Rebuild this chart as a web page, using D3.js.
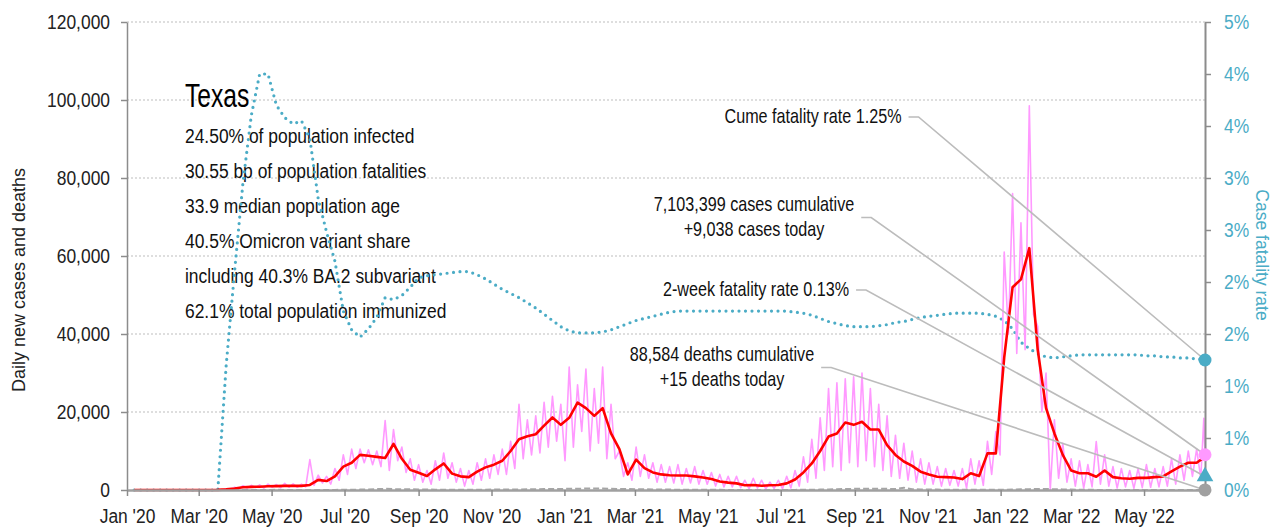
<!DOCTYPE html>
<html>
<head>
<meta charset="utf-8">
<script src="https://cdn.jsdelivr.net/npm/d3@7"></script>
<style>
  body { margin: 0; background: #fff; }
  svg text { font-family: "Liberation Sans", Arial, sans-serif; }
</style>
</head>
<body>
<svg id="chart" width="1281" height="529"></svg>
<script>
// ---------- DATA ----------
// weekly points, first one on 7 Jan 2020
const weekStart = '2020-01-07';

// 7-day average of daily new cases
const avgCases = [
  0, 0, 0, 0, 0, 0, 0, 0, 0, 5,
  30, 150, 400, 700, 800, 850, 950, 1000, 1050, 1100,
  1050, 1300, 2600, 2300, 3500, 6000, 7000, 9000, 8800, 8500,
  8200, 11800, 8000, 5200, 4400, 3600, 5300, 6800, 4200, 3500,
  3300, 4700, 5800, 6500, 7500, 10000, 13000, 13800, 14300, 16500,
  18600, 16700, 18500, 22400, 21000, 19000, 21000, 14500, 10500, 4000,
  7800, 5600, 4500, 4000, 3800, 3700, 3700, 3500, 3200, 2800,
  2200, 1900, 1700, 1200, 1300, 1100, 1200, 1300, 1700, 2700,
  4500, 6800, 10000, 13700, 14500, 17300, 16700, 17500, 15500, 15500,
  11500, 9000, 7300, 6200, 4700, 4000, 3400, 3300, 3200, 2800,
  4300, 3600, 9400, 9400, 34000, 52000, 54000, 62000, 36000, 21000,
  14500, 9000, 5000, 4300, 4300, 3400, 5000, 3300, 3000, 2900,
  3100, 3100, 3300, 3500, 4800, 6000, 7000, 7000, 8500
];

// raw daily cases, one high and one low reading per week
const casesHigh = [
  0, 0, 0, 0, 0, 0, 0, 0, 0, 10,
  60, 300, 700, 1100, 1200, 1300, 1500, 1400, 1700, 1600,
  1500, 7800, 3800, 3500, 5500, 9000, 10500, 10500, 10300, 10000,
  17800, 15500, 11000, 8000, 6500, 5000, 7500, 9500, 7000, 5500,
  5000, 7000, 8000, 9000, 10500, 12500, 22000, 18000, 19000, 22500,
  24000, 22000, 31500, 27000, 31000, 26000, 31500, 22000, 10000, 7000,
  11000, 9000, 7000, 6500, 6000, 6500, 5500, 6000, 5000, 4500,
  4000, 3500, 3500, 2500, 3000, 2500, 2000, 2500, 3500, 5000,
  8500, 13000, 18500, 26000, 27500, 28500, 29000, 30000, 26000, 22000,
  19000, 14000, 12000, 10000, 8000, 7000, 6000, 5500, 5000, 5500,
  8000, 7500, 12500, 15000, 61000, 76000, 68500, 98500, 42000, 30000,
  18000, 12000, 8000, 7500, 6500, 12400, 9000, 6000, 5500, 5000,
  5500, 6500, 5500, 6000, 8000, 9000, 10000, 10500
];
const casesLow = [
  0, 0, 0, 0, 0, 0, 0, 0, 0, 0,
  20, 100, 300, 500, 600, 500, 700, 600, 700, 700,
  800, 1200, 1800, 1500, 2500, 4000, 5500, 7000, 6500, 6000,
  5000, 7500, 4500, 2500, 2000, 1500, 2500, 3000, 2000, 1000,
  1500, 2500, 3000, 4000, 4000, 5500, 8000, 9000, 9500, 11000,
  12500, 7500, 11000, 15000, 10000, 12000, 8000, 8000, 3500, 2500,
  3500, 3000, 2000, 2000, 1800, 1500, 1800, 1500, 1500, 1000,
  800, 800, 600, 300, 500, 300, 400, 300, 500, 1000,
  2000, 3000, 5000, 6000, 5000, 7000, 6000, 7500, 6000, 5000,
  3500, 3000, 2500, 2000, 1500, 1500, 1000, 1200, 1000, 500,
  1500, 1200, 4000, 9000, 40000, 35000, 36000, 45000, 20000, 0,
  3000, 2000, 1000, 500, 800, 1500, 1000, 500, 800, 400,
  600, 700, 800, 1000, 1500, 2500, 3500, 3000
];
// last two reported days
const tailDates = ['2022-06-20', '2022-06-21'];
const tailCases = [18400, 9038];

// daily new deaths, weekly readings
const deaths = [
  0, 0, 0, 0, 0, 0, 0, 0, 0, 0, 0, 0,
  5, 15, 25, 25, 30, 35, 30, 25, 25, 25,
  30, 30, 30, 40, 60, 100, 150, 250, 300, 230,
  200, 180, 150, 110, 90, 90, 80, 70, 70, 80,
  90, 100, 110, 130, 150, 180, 200, 230, 250, 270,
  300, 330, 360, 380, 360, 300, 260, 250, 220, 200,
  150, 120, 100, 80, 60, 50, 45, 40, 35, 30,
  30, 25, 25, 20, 20, 20, 20, 30, 40, 60,
  100, 150, 200, 250, 300, 330, 350, 340, 300, 250,
  600, 180, 150, 120, 100, 80, 70, 60, 60, 60,
  60, 60, 80, 120, 180, 220, 250, 240, 200, 150,
  100, 60, 40, 30, 25, 20, 15, 15, 15, 10,
  10, 10, 10, 10, 15, 15, 15
];

// case fatality rate, percent
const fatalityRate = [
  0, 0, 0, 0, 0, 0, 0, 0, 0, 0,
  0, 1.2, 2.1, 2.95, 3.6, 4.0, 4.0, 3.7, 3.58, 3.52,
  3.55, 3.38, 2.8, 2.48, 2.2, 1.72, 1.54, 1.47, 1.55, 1.66,
  1.85, 1.83, 1.87, 1.95, 2.04, 2.06, 2.07, 2.08, 2.09, 2.10,
  2.10, 2.07, 2.03, 1.98, 1.93, 1.89, 1.85, 1.80, 1.75, 1.69,
  1.63, 1.57, 1.53, 1.51, 1.51, 1.51, 1.52, 1.54, 1.57, 1.60,
  1.63, 1.65, 1.67, 1.69, 1.71, 1.72, 1.72, 1.72, 1.72, 1.72,
  1.72, 1.72, 1.72, 1.72, 1.72, 1.72, 1.72, 1.72, 1.72, 1.71,
  1.70, 1.68, 1.65, 1.62, 1.60, 1.58, 1.57, 1.57, 1.57, 1.58,
  1.59, 1.61, 1.62, 1.64, 1.66, 1.67, 1.68, 1.69, 1.70, 1.70,
  1.70, 1.70, 1.69, 1.67, 1.63, 1.55, 1.42, 1.36, 1.31, 1.28,
  1.27, 1.28, 1.29, 1.30, 1.30, 1.30, 1.30, 1.30, 1.30, 1.30,
  1.30, 1.29, 1.29, 1.28, 1.28, 1.27, 1.27, 1.26, 1.25
];

const leftTicks = [0, 20000, 40000, 60000, 80000, 100000, 120000];
const rightTicks = [0, 0.5, 1, 1.5, 2, 2.5, 3, 3.5, 4, 4.5];

const title = 'Texas';
const statLines = [
  '24.50% of population infected',
  '30.55 bp of population fatalities',
  '33.9 median population age',
  '40.5% Omicron variant share',
  'including 40.3% BA.2 subvariant',
  '62.1% total population immunized'
];

const calloutText = [
  ['Cume fatality rate 1.25%'],
  ['7,103,399 cases cumulative', '+9,038 cases today'],
  ['2-week fatality rate 0.13%'],
  ['88,584 deaths cumulative', '+15 deaths today']
];
const calloutValues = [1.25, 9038, 0.13, 15];
const calloutAxis = ['right', 'left', 'right', 'left'];

// ---------- SETUP ----------
const TEAL = '#4bacc6';
const PINK = '#ff99ff';
const RED = '#ff0000';
const GREY = '#a6a6a6';
const NARROW = 0.83; // horizontal squeeze to mimic a narrow face

const plot = { left: 127, right: 1205, top: 22, bottom: 490 };

const parseDay = d3.utcParse('%Y-%m-%d');
const start = parseDay(weekStart);
const weekDate = (i) => d3.utcDay.offset(start, 7 * i);

const svg = d3.select('#chart');

const x = d3.scaleUtc()
  .domain([parseDay('2020-01-01'), parseDay('2022-06-21')])
  .range([plot.left, plot.right]);
const y = d3.scaleLinear().domain([0, 120000]).range([plot.bottom, plot.top]);
const yR = d3.scaleLinear().domain([0, 4.5]).range([plot.bottom, plot.top]);

// --- Gridlines
svg.append('g')
  .selectAll('line')
  .data(leftTicks.filter((d) => d > 0))
  .join('line')
  .attr('x1', plot.left)
  .attr('x2', plot.right)
  .attr('y1', (d) => y(d))
  .attr('y2', (d) => y(d))
  .attr('stroke', '#bdbdbd')
  .attr('stroke-width', 1)
  .attr('stroke-dasharray', '2,2');

// --- Text block
const info = svg.append('g').attr('transform', `translate(185,0) scale(${NARROW},1)`);
info.append('text')
  .attr('x', 0).attr('y', 107)
  .attr('font-size', 33)
  .attr('transform', 'scale(0.9,1)')
  .attr('fill', '#000')
  .text(title);
info.selectAll('text.stat')
  .data(statLines)
  .join('text')
  .attr('class', 'stat')
  .attr('x', 0)
  .attr('y', (d, i) => 143 + i * 35)
  .attr('font-size', 21)
  .attr('fill', '#111')
  .text((d) => d);

// --- Series
const weekly = (arr) => arr.map((v, i) => ({ date: weekDate(i), value: v }));

const pinkPoints = [];
casesHigh.forEach((v, i) => {
  pinkPoints.push({ date: weekDate(i), value: v });
  pinkPoints.push({ date: d3.utcHour.offset(weekDate(i), 84), value: casesLow[i] });
});
tailDates.forEach((d, i) => pinkPoints.push({ date: parseDay(d), value: tailCases[i] }));

const lineL = d3.line().x((d) => x(d.date)).y((d) => y(d.value));
const lineR = d3.line().x((d) => x(d.date)).y((d) => yR(d.value));

svg.append('path')
  .datum(weekly(fatalityRate))
  .attr('d', lineR)
  .attr('fill', 'none')
  .attr('stroke', TEAL)
  .attr('stroke-width', 3.2)
  .attr('stroke-linecap', 'round')
  .attr('stroke-dasharray', '0,6.5');

svg.append('path')
  .datum(pinkPoints)
  .attr('d', lineL)
  .attr('fill', 'none')
  .attr('stroke', PINK)
  .attr('stroke-width', 1.6)
  .attr('stroke-linejoin', 'round');

svg.append('path')
  .datum(weekly(deaths))
  .attr('d', lineL)
  .attr('fill', 'none')
  .attr('stroke', GREY)
  .attr('stroke-width', 2)
  .attr('stroke-dasharray', '6,3');

svg.append('path')
  .datum(weekly(avgCases))
  .attr('d', lineL)
  .attr('fill', 'none')
  .attr('stroke', RED)
  .attr('stroke-width', 2.6)
  .attr('stroke-linejoin', 'round');

// --- Axes
function styleTicks(g, color, xPos) {
  g.selectAll('.tick line').attr('stroke', '#8c8c8c').attr('stroke-width', 1.5);
  const t = g.selectAll('.tick text')
    .attr('font-size', 21)
    .attr('fill', color)
    .attr('transform', `scale(${NARROW},1)`);
  if (xPos !== undefined) t.attr('x', xPos / NARROW);
}

const axisLeft = svg.append('g')
  .attr('transform', `translate(${plot.left},0)`)
  .call(d3.axisLeft(y).tickValues(leftTicks).tickFormat(d3.format(',')).tickSize(6).tickSizeOuter(0).tickPadding(10));
axisLeft.select('.domain').attr('stroke', '#8c8c8c').attr('stroke-width', 1.5);
styleTicks(axisLeft, '#222', -17);

const axisRight = svg.append('g')
  .attr('transform', `translate(${plot.right},0)`)
  .call(d3.axisRight(yR).tickValues(rightTicks).tickFormat((d) => Math.round(d) + '%').tickSize(6).tickSizeOuter(0).tickPadding(12));
axisRight.select('.domain').attr('stroke', '#8c8c8c').attr('stroke-width', 2);
styleTicks(axisRight, TEAL, 19);

const axisBottom = svg.append('g')
  .attr('transform', `translate(0,${plot.bottom})`)
  .call(d3.axisBottom(x).ticks(d3.utcMonth.every(2)).tickFormat(d3.utcFormat("%b '%y")).tickSize(6).tickSizeOuter(0).tickPadding(12));
axisBottom.select('.domain').attr('stroke', '#a0a0a0').attr('stroke-width', 2.5);
styleTicks(axisBottom, '#222');

// --- Axis titles
svg.append('text')
  .attr('transform', 'translate(25,280) rotate(-90)')
  .attr('text-anchor', 'middle')
  .attr('font-size', 18)
  .attr('fill', '#222')
  .text('Daily new cases and deaths');

svg.append('text')
  .attr('transform', 'translate(1256,255) rotate(90)')
  .attr('text-anchor', 'middle')
  .attr('font-size', 17.5)
  .attr('fill', TEAL)
  .text('Case fatality rate');

// --- Callouts
const calloutPos = [
  { cx: 813, y: 123 },
  { cx: 754, y: 211 },
  { cx: 756, y: 296 },
  { cx: 722, y: 361 }
];
const markerColor = [TEAL, PINK, TEAL, '#a0a0a0'];
const leaders = svg.append('g');
const labels = svg.append('g');
const markers = svg.append('g');

calloutText.forEach((lines, k) => {
  const pos = calloutPos[k];
  const t = labels.append('g')
    .attr('transform', `translate(${pos.cx},0) scale(${NARROW},1)`)
    .append('text')
    .attr('text-anchor', 'middle')
    .attr('font-size', 19.5)
    .attr('fill', '#111');
  lines.forEach((s, j) => {
    t.append('tspan').attr('x', 0).attr('y', pos.y + j * 25).text(s);
  });
  const first = t.select('tspan').node().getComputedTextLength() * NARROW;
  const x0 = pos.cx + first / 2 + 7;
  const yMid = pos.y + (lines.length - 1) * 12.5 - 6;
  const v = calloutValues[k];
  const yEnd = calloutAxis[k] === 'right' ? yR(v) : y(v);
  leaders.append('polyline')
    .attr('points', `${x0},${yMid} ${x0 + 10},${yMid} ${plot.right},${yEnd}`)
    .attr('fill', 'none')
    .attr('stroke', '#bcbcbc')
    .attr('stroke-width', 1.6);
  if (k === 2) {
    markers.append('path')
      .attr('d', d3.symbol(d3.symbolTriangle, 120)())
      .attr('transform', `translate(${plot.right},${yEnd})`)
      .attr('fill', markerColor[k]);
  } else {
    markers.append('circle')
      .attr('cx', plot.right)
      .attr('cy', yEnd)
      .attr('r', 6.5)
      .attr('fill', markerColor[k]);
  }
});
</script>
</body>
</html>
